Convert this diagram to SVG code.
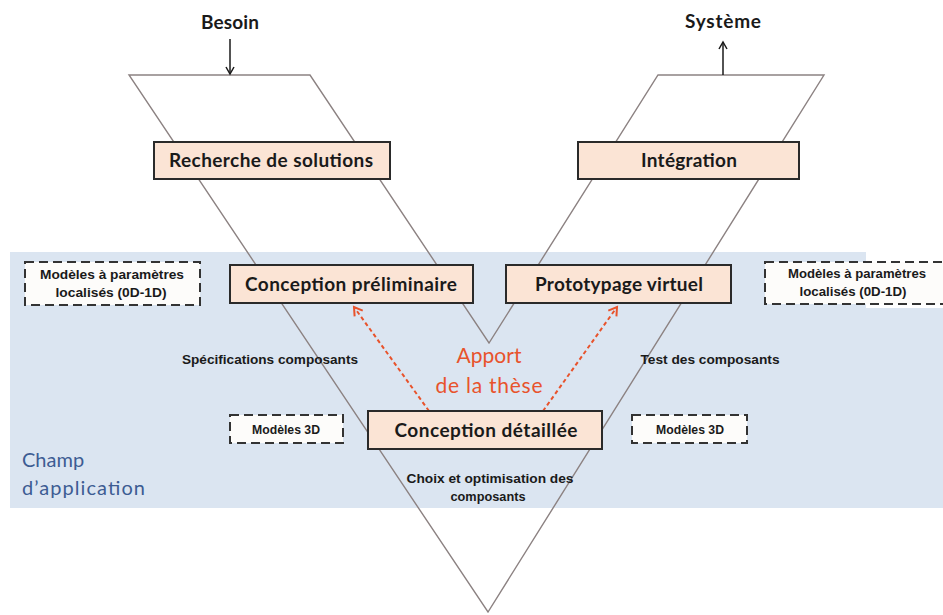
<svg xmlns="http://www.w3.org/2000/svg" width="943" height="615" viewBox="0 0 943 615">
<style>
.lbl{font-family:Lato,"Open Sans","Liberation Sans",sans-serif;font-weight:bold;font-size:19px;fill:#1a1a1a;text-anchor:middle}
.top{font-family:Lato,"Open Sans","Liberation Sans",sans-serif;font-weight:bold;font-size:19px;fill:#1a1a1a;text-anchor:middle}
.sm{font-family:"Liberation Sans",Arial,sans-serif;font-weight:bold;font-size:12px;fill:#1a1a1a;text-anchor:middle}
.red{font-family:Lato,"Open Sans",sans-serif;font-size:21px;fill:#e8532c;text-anchor:middle}
.blue{font-family:Lato,"Open Sans",sans-serif;font-size:20px;fill:#3d5c93}
.box{fill:#fbe4d5;stroke:#2a2a2a;stroke-width:2}
.dbox{fill:#fdfcfa;stroke:#333;stroke-width:2;stroke-dasharray:9 5}
.vline{fill:none;stroke:#8c8282;stroke-width:1.4}
.arr{stroke:#1a1a1a;stroke-width:1.5;fill:none}
.rarr{stroke:#e8532c;stroke-width:2;stroke-dasharray:4 3;fill:none}
</style>
<defs>
<marker id="open" markerWidth="10" markerHeight="10" refX="8" refY="5" orient="auto" markerUnits="userSpaceOnUse">
<path d="M1,1 L8,5 L1,9" fill="none" stroke="#1a1a1a" stroke-width="1.5"/>
</marker>
<marker id="ropen" markerWidth="12" markerHeight="12" refX="9" refY="6" orient="auto" markerUnits="userSpaceOnUse">
<path d="M1,1 L9,6 L1,11" fill="none" stroke="#e8532c" stroke-width="2"/>
</marker>
</defs>
<rect width="943" height="615" fill="#ffffff"/>
<g id="champ">
<rect x="10" y="252" width="933" height="256" fill="#dbe5f1"/>
<rect x="866" y="252" width="77" height="56" fill="#ffffff"/>
<text class="blue" x="22" y="467">Champ</text>
<text class="blue" x="22" y="495" textLength="123">d’application</text>
</g>
<g id="cycle-v">
<polygon class="vline" points="129,75 310,75 489,343 658,75 824,75 488,612"/>
</g>
<g id="connectors">
<line class="arr" x1="230" y1="39" x2="230" y2="74" marker-end="url(#open)"/>
<line class="arr" x1="723" y1="75" x2="723" y2="42" marker-end="url(#open)"/>
<line class="rarr" x1="429" y1="411" x2="354" y2="307" marker-end="url(#ropen)"/>
<line class="rarr" x1="543" y1="411" x2="617" y2="307" marker-end="url(#ropen)"/>
</g>
<g id="besoin"><text class="top" x="230" y="29" textLength="58">Besoin</text></g>
<g id="systeme"><text class="top" x="723" y="28" textLength="76">Système</text></g>
<g id="recherche">
<rect class="box" x="154" y="142" width="236" height="37"/>
<text class="lbl" x="271" y="167" textLength="204">Recherche de solutions</text>
</g>
<g id="integration">
<rect class="box" x="578" y="142" width="221" height="37"/>
<text class="lbl" x="689" y="167" textLength="96">Intégration</text>
</g>
<g id="conception-preliminaire">
<rect class="box" x="230" y="265" width="243" height="38"/>
<text class="lbl" x="351" y="291" textLength="212">Conception préliminaire</text>
</g>
<g id="prototypage">
<rect class="box" x="506" y="265" width="225" height="38"/>
<text class="lbl" x="619" y="291" textLength="168">Prototypage virtuel</text>
</g>
<g id="conception-detaillee">
<rect class="box" x="368" y="411" width="234" height="38"/>
<text class="lbl" x="486" y="437" textLength="183">Conception détaillée</text>
</g>
<g id="modeles-0d1d-gauche">
<rect class="dbox" x="25" y="262" width="175" height="43"/>
<text class="sm" x="112" y="279" textLength="144" lengthAdjust="spacingAndGlyphs">Modèles à paramètres</text>
<text class="sm" x="111" y="297" textLength="111" lengthAdjust="spacingAndGlyphs">localisés (0D-1D)</text>
</g>
<g id="modeles-0d1d-droite">
<rect class="dbox" x="765" y="262" width="190" height="42" fill="none"/>
<text class="sm" x="857" y="278" textLength="138" lengthAdjust="spacingAndGlyphs">Modèles à paramètres</text>
<text class="sm" x="853" y="296" textLength="107" lengthAdjust="spacingAndGlyphs">localisés (0D-1D)</text>
</g>
<g id="modeles-3d-gauche">
<rect class="dbox" x="230" y="415" width="113" height="28"/>
<text class="sm" x="286" y="434" textLength="68" lengthAdjust="spacingAndGlyphs">Modèles 3D</text>
</g>
<g id="modeles-3d-droite">
<rect class="dbox" x="632" y="415" width="115" height="28"/>
<text class="sm" x="690" y="434" textLength="68" lengthAdjust="spacingAndGlyphs">Modèles 3D</text>
</g>
<g id="specifications"><text class="sm" x="270" y="364" textLength="176" lengthAdjust="spacingAndGlyphs">Spécifications composants</text></g>
<g id="test"><text class="sm" x="710" y="364" textLength="139" lengthAdjust="spacingAndGlyphs">Test des composants</text></g>
<g id="choix">
<text class="sm" x="490" y="483" textLength="167" lengthAdjust="spacingAndGlyphs">Choix et optimisation des</text>
<text class="sm" x="488" y="501" textLength="75" lengthAdjust="spacingAndGlyphs">composants</text>
</g>
<g id="apport">
<text class="red" x="489" y="363" textLength="65">Apport</text>
<text class="red" x="489" y="393" textLength="107">de la thèse</text>
</g>
</svg>
